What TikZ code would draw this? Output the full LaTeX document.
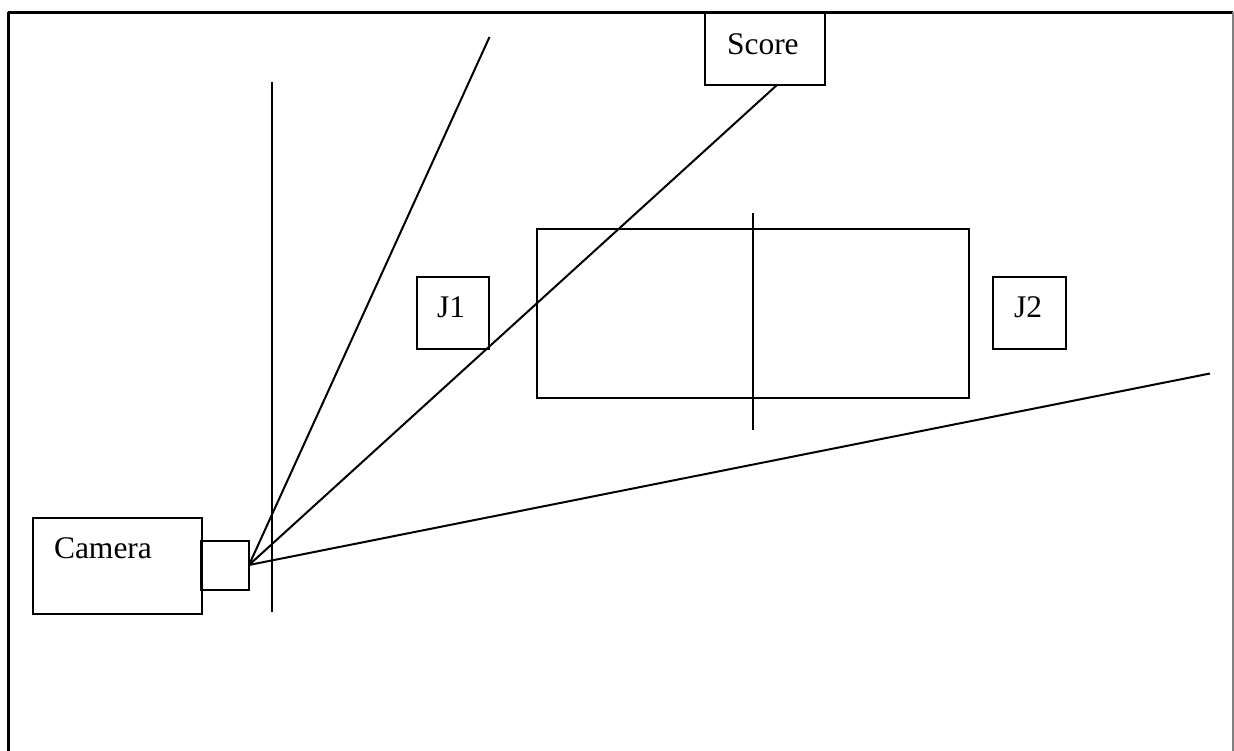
\documentclass[tikz,border=0pt]{standalone}
\usepackage{fontspec}
\setmainfont{Liberation Serif}
\begin{document}
\begin{tikzpicture}[x=1pt,y=-1pt,
  line width=2pt,
  box/.style={draw=black, line width=2pt, rectangle, inner sep=0pt},
  lbl/.style={anchor=base west, inner sep=0pt, font=\fontsize{31.5}{36}\selectfont},
  ray/.style={draw=black, line width=2pt}]
\useasboundingbox (0,0) rectangle (1234,751);
% page frame (open at the bottom)
\draw[line width=3pt] (8,751) -- (8,12.5);
\draw[line width=2.5pt] (8,12.5) -- (1233,12.5);
\draw[gray, line width=2pt] (1233,12.5) -- (1233,751);

% camera body and lens
\node[box, minimum width=169pt, minimum height=96pt] (cam) at (117.2,565.5) {};
\node[box, minimum width=48pt, minimum height=49pt] (lens) at (225,565.5) {};
\node[lbl] (camtxt) at (53,558) {Camera};
\coordinate (apex) at (249,565);

% screen plane in front of the camera
\coordinate (scrtop) at (272,82);
\coordinate (scrbot) at (272,612);
\draw (scrtop) -- (scrbot);

% score board
\node[box, minimum width=120pt, minimum height=72pt] (score) at (765,49) {};
\node[lbl] (scoretxt) at (726,55) {Score};

% judges
\node[box, minimum width=72pt, minimum height=72pt] (j1) at (453,313) {};
\node[lbl] (j1txt) at (436,318) {J1};
\node[box, minimum width=73pt, minimum height=72pt] (j2) at (1029.5,313) {};
\node[lbl] (j2txt) at (1013,318) {J2};

% mat with centre line
\node[box, minimum width=432pt, minimum height=168pt] (mat) at (753,313.5) {};
\coordinate (midtop) at (752.5,213);
\coordinate (midbot) at (752.5,430);
\draw (midtop) -- (midbot);

% field of view rays
\coordinate (raytop) at (489.5,37);
\coordinate (rayright) at (1210,373.5);
\coordinate (scorefoot) at (777,85);
\draw[ray] (apex) -- (raytop);
\draw[ray] (apex) -- (scorefoot);
\draw[ray] (apex) -- (rayright);
\end{tikzpicture}
\end{document}
